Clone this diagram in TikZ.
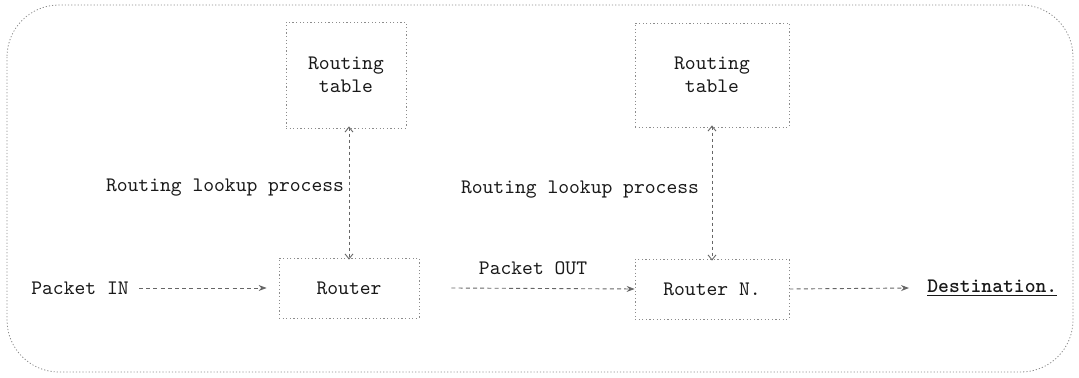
\documentclass[tikz,border=0pt]{standalone}
\usepackage{fontspec}
\usetikzlibrary{arrows.meta}
\tikzset{
  lbl/.style={font=\ttfamily\fontsize{10.3}{11.5}\selectfont, text=black!90, inner sep=1pt},
  dotbox/.style={draw=black!45, line width=0.4pt, dash pattern=on 0.6pt off 1.2pt, rectangle, align=center,
                 font=\ttfamily\fontsize{10.3}{11.5}\selectfont, text=black!90},
  flow/.style={draw=black!60, line width=0.45pt, dash pattern=on 2pt off 1.6pt,
               -{Stealth[length=4pt,width=3pt]}},
  lookup/.style={draw=black!60, line width=0.45pt, dash pattern=on 1.6pt off 1.4pt,
               {Straight Barb[length=2.5pt,width=4pt]}-{Straight Barb[length=2.5pt,width=4pt]}},
  frame/.style={draw=black!45, line width=0.4pt, dash pattern=on 0.6pt off 1pt, rounded corners=26pt}
}
\begin{document}
\begin{tikzpicture}[x=0.5pt,y=-0.5pt]
  \useasboundingbox (0,0) rectangle (1079,378);
  % outer frame
  \draw[frame] (7,5) rectangle (1073,372);

  % routing tables
  \node[dotbox, minimum width=60pt, minimum height=53pt] (rt1) at (346,75) {Routing\\table};
  \node[dotbox, minimum width=77pt, minimum height=52pt] (rt2) at (712,75) {Routing\\table};

  % routers
  \node[dotbox, minimum width=70pt, minimum height=30pt] (r1) at (349,288) {Router};
  \node[dotbox, minimum width=77pt, minimum height=30pt] (r2) at (712,289) {Router N.};

  % endpoints
  \node[lbl] (pin) at (80,288) {Packet IN};
  \node[lbl, anchor=west] (dest) at (925,288) {\underline{\textbf{Destination.}}};

  % labels
  \node[lbl] (look1) at (225,188) {Routing lookup process};
  \node[lbl] (look2) at (580,190) {Routing lookup process};
  \node[lbl] (pout) at (533,268) {Packet OUT};

  % connectors
  \draw[flow] (pin.east) ++(8,0) coordinate (pinA) -- ([xshift=-6]r1.west);
  \draw[flow] ([xshift=16]r1.east) -- (r2.west);
  \draw[flow] (r2.east) -- ([xshift=-8]dest.west);
  \draw[lookup] ([yshift=1]rt1.south -| r1.north) -- ([yshift=-1]r1.north);
  \draw[lookup] ([yshift=1]rt2.south) -- ([yshift=-1]r2.north);
\end{tikzpicture}
\end{document}
